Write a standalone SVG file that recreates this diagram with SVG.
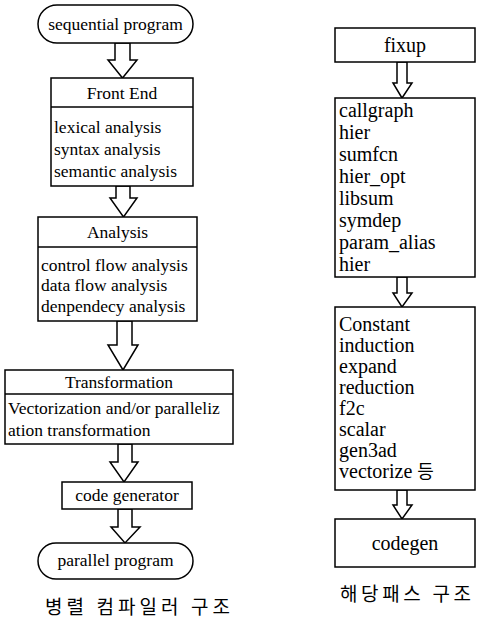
<svg xmlns="http://www.w3.org/2000/svg" width="477" height="624" viewBox="0 0 477 624">
<style>
.box{fill:#fff;stroke:#000;stroke-width:1.5}
.arr{fill:#fff;stroke:#000;stroke-width:1.5;stroke-linejoin:miter}
.t{font-size:17.5px;fill:#000}
.c{text-anchor:middle}
.r{font-size:20px;fill:#000}
.k{font-size:19px;fill:#000}
</style>
<rect width="477" height="624" fill="#fff"/>
<g id="connectors">
<polygon class="arr" points="115,43 130,43 130,60 137,60 122.5,78 108,60 115,60"/>
<polygon class="arr" points="116,186 130,186 130,198 137,198 123.5,217 110,198 116,198"/>
<polygon class="arr" points="117,321 132,321 132,345 138,345 123,370 108,345 117,345"/>
<polygon class="arr" points="118,444 132,444 132,462 138,462 124,482 110,462 118,462"/>
<polygon class="arr" points="118,509 132,509 132,527 140,527 125,543 111,527 118,527"/>
<polygon class="arr" points="397,62 407,62 407,83 412,83 402,98 393,83 397,83"/>
<polygon class="arr" points="397,277 407,277 407,293 412,293 402,307 393,293 397,293"/>
<polygon class="arr" points="397,490 407,490 407,505 412,505 402,519 393,505 397,505"/>
</g>
<g font-family="'Liberation Serif', 'DejaVu Serif', 'Times New Roman', serif">
<g id="sequential-program">
<rect class="box" x="38" y="5" width="155" height="38" rx="19"/>
<text class="t c" x="115.5" y="30">sequential program</text>
</g>
<g id="front-end">
<rect class="box" x="51" y="78" width="142" height="108"/>
<line class="box" x1="51" y1="107" x2="193" y2="107"/>
<text class="t c" x="122" y="99">Front End</text>
<text class="t" x="54" y="133">lexical analysis</text>
<text class="t" x="54" y="155">syntax analysis</text>
<text class="t" x="54" y="177">semantic analysis</text>
</g>
<g id="analysis">
<rect class="box" x="38" y="217" width="159" height="104"/>
<line class="box" x1="38" y1="247" x2="197" y2="247"/>
<text class="t c" x="117.5" y="238">Analysis</text>
<text class="t" x="41" y="271">control flow analysis</text>
<text class="t" x="41" y="291">data flow analysis</text>
<text class="t" x="41" y="312">denpendecy analysis</text>
</g>
<g id="transformation">
<rect class="box" x="5" y="370" width="228" height="74"/>
<line class="box" x1="5" y1="394" x2="233" y2="394"/>
<text class="t c" x="119" y="388">Transformation</text>
<text class="t" x="8" y="414">Vectorization and/or paralleliz</text>
<text class="t" x="8" y="436">ation transformation</text>
</g>
<g id="code-generator">
<rect class="box" x="62" y="482" width="130" height="27"/>
<text class="t c" x="127" y="501">code generator</text>
</g>
<g id="parallel-program">
<rect class="box" x="38" y="543" width="155" height="36" rx="18"/>
<text class="t c" x="115.5" y="566">parallel program</text>
</g>
<g id="fixup">
<rect class="box" x="335" y="28" width="140" height="34"/>
<text class="r c" x="405" y="52">fixup</text>
</g>
<g id="callgraph">
<rect class="box" x="335" y="98" width="140" height="179"/>
<text class="r" x="339" y="117">callgraph</text>
<text class="r" x="339" y="139">hier</text>
<text class="r" x="339" y="161">sumfcn</text>
<text class="r" x="339" y="183">hier_opt</text>
<text class="r" x="339" y="205">libsum</text>
<text class="r" x="339" y="227">symdep</text>
<text class="r" x="339" y="249">param_alias</text>
<text class="r" x="339" y="271">hier</text>
</g>
<g id="constant">
<rect class="box" x="335" y="307" width="140" height="183"/>
<text class="r" x="339" y="331">Constant</text>
<text class="r" x="339" y="352">induction</text>
<text class="r" x="339" y="373">expand</text>
<text class="r" x="339" y="394">reduction</text>
<text class="r" x="339" y="415">f2c</text>
<text class="r" x="339" y="436">scalar</text>
<text class="r" x="339" y="457">gen3ad</text>
<text class="r" x="339" y="478">vectorize <tspan font-family="'Noto Sans CJK KR', sans-serif" font-size="18">등</tspan></text>
</g>
<g id="codegen">
<rect class="box" x="335" y="519" width="140" height="48"/>
<text class="r c" x="405" y="550">codegen</text>
</g>
</g>
<g font-family="'Noto Sans CJK KR', 'Noto Sans', sans-serif">
<text class="k" x="45" y="614" textLength="185" lengthAdjust="spacing">병렬 컴파일러 구조</text>
<text class="k" x="340" y="601" textLength="131" lengthAdjust="spacing">해당패스 구조</text>
</g>
</svg>
